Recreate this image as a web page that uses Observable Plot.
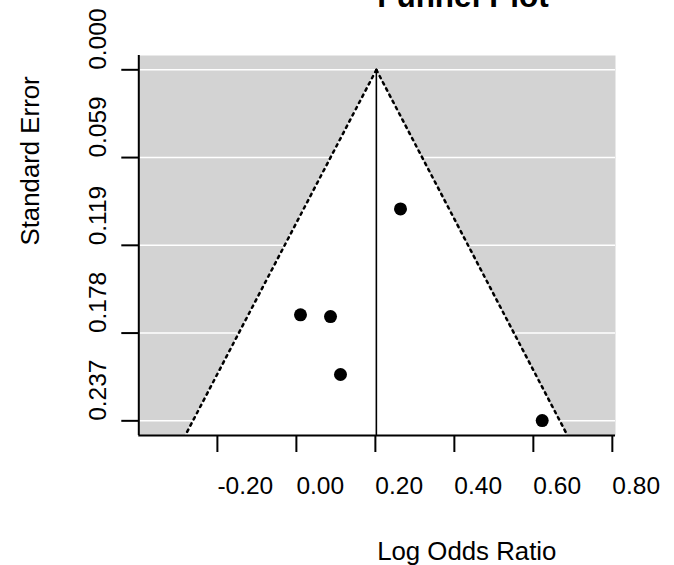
<!DOCTYPE html>
<html>
<head>
<meta charset="utf-8">
<script src="https://cdn.jsdelivr.net/npm/d3@7"></script>
<script src="https://cdn.jsdelivr.net/npm/@observablehq/plot@0.6"></script>
<style>
  body { margin: 0; background: #fff; }
  #chart svg { display: block; }
</style>
</head>
<body>
<div id="chart"></div>
<script>
// Study data
const studyLogOR = [0.2636, 0.0104, 0.0864, 0.1117, 0.6224];
const studySE    = [0.0939, 0.1654, 0.1666, 0.2057, 0.2368];
// pooled estimate (vertical reference line)
const estimate = 0.2025;

// axes
const xTicks = [-0.2, 0, 0.2, 0.4, 0.6, 0.8];
const xTickLabels = ["-0.20", "0.00", "0.20", "0.40", "0.60", "0.80"];
const yTicks = [0, 0.05925, 0.1185, 0.17775, 0.237];
const yTickLabels = ["0.000", "0.059", "0.119", "0.178", "0.237"];
const xDomain = [-0.399, 0.808];
const yDomain = [-0.00966, 0.2469];

const titleText = "Funnel Plot";
const xLabel = "Log Odds Ratio";
const yLabel = "Standard Error";

const points = studyLogOR.map((x, i) => ({x, se: studySE[i]}));
const seBottom = yDomain[1];
const funnel = [
  {se: 0, lo: estimate, hi: estimate},
  {se: seBottom, lo: estimate - 1.96 * seBottom, hi: estimate + 1.96 * seBottom}
];

const font = '"Liberation Sans", Arial, Helvetica, sans-serif';

const chart = Plot.plot({
  width: 674,
  height: 565,
  marginLeft: 138.3,
  marginRight: 59,
  marginTop: 55,
  marginBottom: 130,
  style: {fontFamily: font, fontSize: "24px", background: "white", color: "black"},
  x: {domain: xDomain, label: null},
  y: {domain: yDomain, reverse: true, label: null},
  marks: [
    Plot.frame({fill: "#d3d3d3", stroke: null}),
    Plot.ruleY(yTicks, {stroke: "white", strokeWidth: 1.5}),
    Plot.areaX(funnel, {y: "se", x1: "lo", x2: "hi", fill: "white"}),
    Plot.line(funnel, {x: "lo", y: "se", stroke: "black", strokeWidth: 2.5, strokeDasharray: "2.5,4.5"}),
    Plot.line(funnel, {x: "hi", y: "se", stroke: "black", strokeWidth: 2.5, strokeDasharray: "2.5,4.5"}),
    Plot.ruleX([estimate], {y1: 0, y2: seBottom, stroke: "black", strokeWidth: 1.6}),
    Plot.dot(points, {x: "x", y: "se", r: 6.5, fill: "black", stroke: null}),
    Plot.ruleX([xDomain[0]], {stroke: "black", strokeWidth: 2}),
    Plot.ruleY([yDomain[1]], {stroke: "black", strokeWidth: 2}),
    Plot.axisY({ticks: yTicks, tickSize: 17, tickFormat: () => "", strokeWidth: 2, label: null}),
    Plot.axisX({ticks: xTicks, tickSize: 17, tickFormat: () => "", strokeWidth: 2, label: null}),
    Plot.text(yTicks, {y: d => d, text: (d, i) => yTickLabels[i], frameAnchor: "left", dx: -33.3,
      rotate: -90, textAnchor: "start", lineAnchor: "bottom", fontSize: 24.5, fill: "black"}),
    Plot.text(xTicks, {x: d => d, text: (d, i) => xTickLabels[i], frameAnchor: "bottom", dy: 58,
      textAnchor: "start", lineAnchor: "bottom", fontSize: 24.5, fill: "black"}),
    Plot.text([xLabel], {text: d => d, frameAnchor: "bottom", dy: 124, textAnchor: "start",
      lineAnchor: "bottom", fontSize: 25.8, fill: "black"}),
    Plot.text([yLabel], {text: d => d, frameAnchor: "left", dx: -100, rotate: -90, textAnchor: "start",
      lineAnchor: "bottom", fontSize: 25.8, fill: "black"}),
    Plot.text([titleText], {text: d => d, frameAnchor: "top", dy: -49, textAnchor: "start",
      lineAnchor: "bottom", fontSize: 31.5, fontWeight: "bold", fill: "black"})
  ]
});
document.getElementById("chart").appendChild(chart);
</script>
</body>
</html>
